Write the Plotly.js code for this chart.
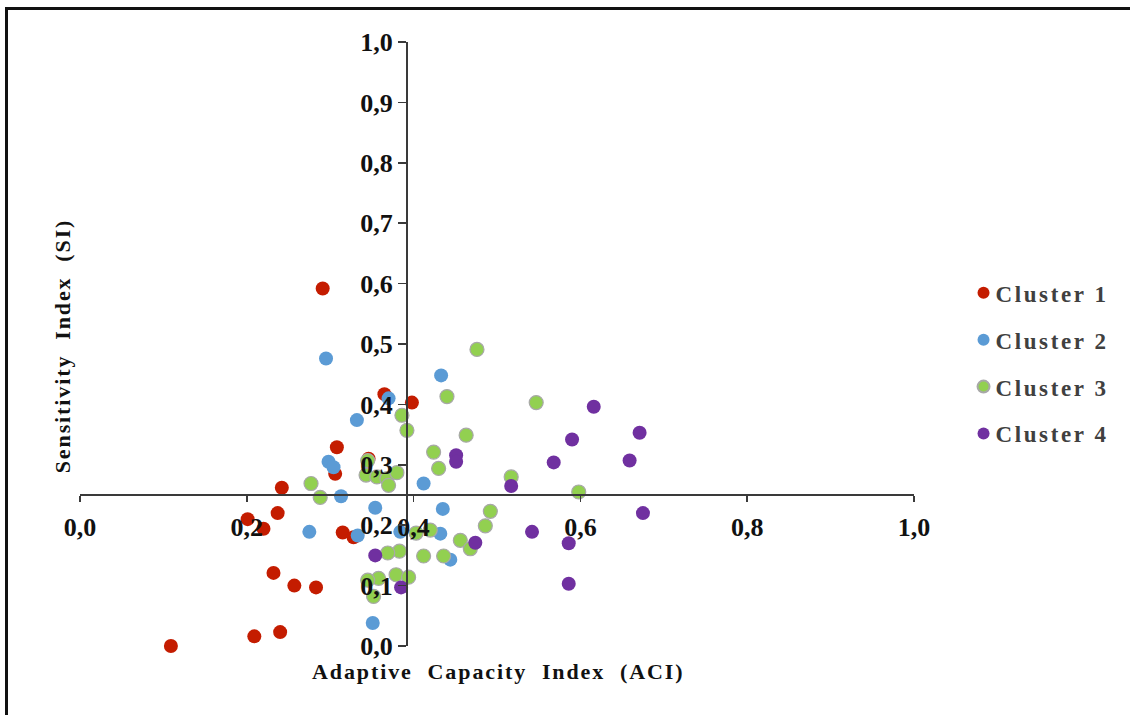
<!DOCTYPE html>
<html>
<head>
<meta charset="utf-8">
<script src="https://cdn.plot.ly/plotly-3.0.1.min.js"></script>
<style>
  html, body { margin: 0; padding: 0; background: #fff; }
  #wrap { position: relative; width: 1130px; height: 715px; overflow: hidden; }
  #chart { position: absolute; left: 0; top: 0; width: 1130px; height: 715px; }
  #frame { position: absolute; left: 5px; top: 7px; width: 1200px; height: 800px;
           border-left: 3px solid #111; border-top: 3px solid #111; pointer-events: none; }
  .legendtext { letter-spacing: 2.6px; }
  .annotation-text { letter-spacing: 1.9px; }
  .legendpoints path.scatterpts { transform: translate(28px, 0px); }
</style>
</head>
<body>
<div id="wrap">
  <div id="chart"></div>
  <div id="frame"></div>
</div>
<script>
// Cluster 1
const c1x = [0.291,0.365,0.398,0.308,0.346,0.306,0.242,0.237,0.201,0.220,0.315,0.328,0.232,0.257,0.283,0.240,0.209,0.109];
const c1y = [0.592,0.417,0.403,0.329,0.310,0.285,0.262,0.220,0.210,0.194,0.188,0.180,0.121,0.100,0.097,0.023,0.016,0.000];
// Cluster 2
const c2x = [0.295,0.433,0.370,0.332,0.298,0.304,0.313,0.354,0.275,0.333,0.384,0.351,0.412,0.435,0.432,0.444];
const c2y = [0.476,0.448,0.410,0.374,0.305,0.296,0.248,0.229,0.189,0.183,0.189,0.038,0.269,0.227,0.186,0.143];
// Cluster 3
const c3x = [0.476,0.440,0.547,0.386,0.392,0.463,0.424,0.430,0.517,0.598,0.492,0.486,0.456,0.468,0.412,0.436,0.383,0.369,0.379,0.394,0.358,0.345,0.352,0.345,0.343,0.356,0.368,0.380,0.370,0.277,0.288,0.403,0.420];
const c3y = [0.491,0.413,0.403,0.382,0.357,0.349,0.321,0.294,0.280,0.255,0.223,0.199,0.175,0.161,0.149,0.149,0.157,0.154,0.118,0.114,0.112,0.109,0.082,0.307,0.283,0.280,0.277,0.287,0.266,0.269,0.246,0.187,0.192];
// Cluster 4
const c4x = [0.616,0.671,0.590,0.568,0.659,0.451,0.451,0.517,0.675,0.542,0.586,0.474,0.586,0.385,0.354];
const c4y = [0.396,0.353,0.342,0.304,0.307,0.316,0.305,0.265,0.220,0.189,0.170,0.171,0.103,0.097,0.150];

const seriesNames = ["Cluster 1", "Cluster 2", "Cluster 3", "Cluster 4"];
const xTitle = "Adaptive Capacity Index (ACI)";
const yTitle = "Sensitivity Index (SI)";

const SERIF = "'Liberation Serif', 'Times New Roman', serif";
const colors = ["#C41C00", "#5B9BD5", "#92D050", "#7030A0"];
const lines = [null, null, "#A8A8A8", null];

const xs = [c1x, c2x, c3x, c4x];
const ys = [c1y, c2y, c3y, c4y];

const traces = xs.map((xv, i) => ({
  type: "scatter",
  mode: "markers",
  name: seriesNames[i],
  legendgroup: "g" + i,
  x: xv,
  y: ys[i],
  cliponaxis: false,
  marker: {
    size: 14,
    color: colors[i],
    line: lines[i] ? {color: lines[i], width: 1.2} : {width: 0}
  }
}));

const sp = "\u00A0";
function spaced(s) { return s.split(" ").join(" " + sp); }

const axisCommon = {
  range: [0, 1],
  showgrid: false,
  zeroline: false,
  showline: true,
  linecolor: "#3a3a3a",
  linewidth: 2,
  ticks: "outside",
  tickcolor: "#3a3a3a",
  tickwidth: 1.5,
  tickformat: ".1f",
  tickfont: {family: SERIF, size: 26, color: "#111", weight: "bold"},
  anchor: "free",
  fixedrange: true
};

const layout = {
  width: 1130,
  height: 715,
  margin: {l: 80, r: 216, t: 42, b: 69},
  paper_bgcolor: "rgba(0,0,0,0)",
  plot_bgcolor: "rgba(0,0,0,0)",
  separators: ", ",
  showlegend: true,
  xaxis: Object.assign({}, axisCommon, {tick0: 0, dtick: 0.2, position: 0.25, ticklen: 6, ticklabelstandoff: 3}),
  yaxis: Object.assign({}, axisCommon, {tick0: 0, dtick: 0.1, position: 0.392, ticklen: 8}),
  legend: {
    x: 1.0498, xanchor: "left",
    y: 0.468, yanchor: "middle",
    tracegroupgap: 14,
    font: {family: SERIF, size: 23, color: "#404040", weight: "bold"},
    itemsizing: "constant",
    bgcolor: "rgba(0,0,0,0)"
  },
  annotations: [
    {
      text: spaced(xTitle), xref: "paper", yref: "paper",
      x: (498 - 80) / 834, y: (645.7 - 671) / 604,
      xanchor: "center", yanchor: "middle", showarrow: false,
      font: {family: SERIF, size: 22, color: "#111", weight: "bold"}
    },
    {
      text: spaced(yTitle), xref: "paper", yref: "paper",
      x: (62 - 80) / 834, y: (645.7 - 346) / 604,
      xanchor: "center", yanchor: "middle", showarrow: false, textangle: -90,
      font: {family: SERIF, size: 22, color: "#111", weight: "bold"}
    }
  ]
};

Plotly.newPlot("chart", traces, layout, {displayModeBar: false, staticPlot: true});
</script>
</body>
</html>
